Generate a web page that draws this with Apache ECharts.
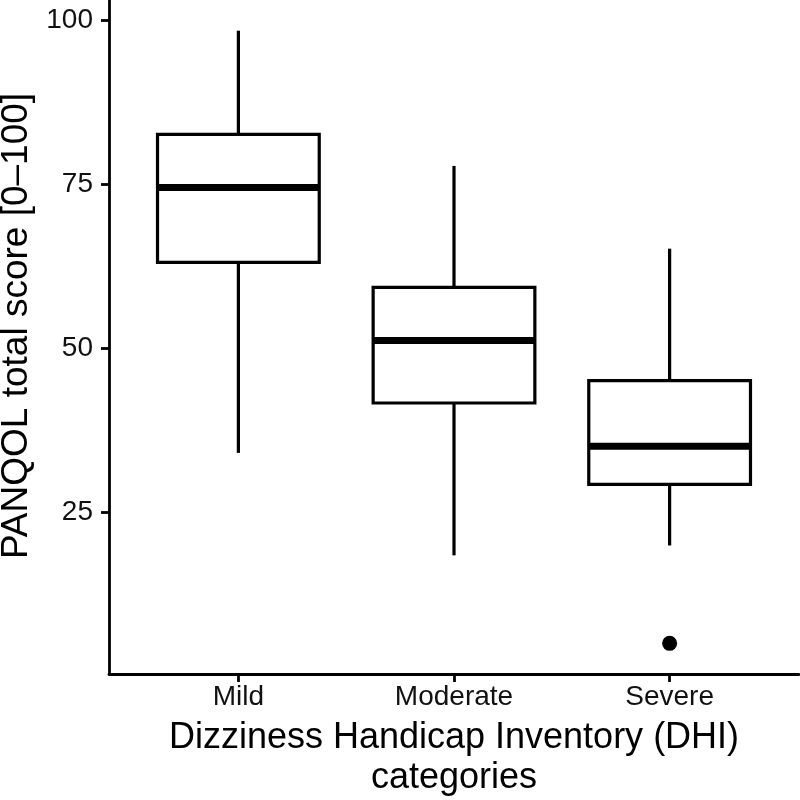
<!DOCTYPE html>
<html>
<head>
<meta charset="utf-8">
<script src="https://cdn.jsdelivr.net/npm/echarts@6/dist/echarts.min.js"></script>
<style>html,body{margin:0;padding:0;background:#fff}#c{width:800px;height:800px}</style>
</head>
<body>
<div id="c"></div>
<script>
const categories = ['Mild', 'Moderate', 'Severe'];
const whiskerLow = [34.1, 18.5, 20.0];
const q1 = [63.1, 41.7, 29.3];
const median = [74.5, 51.2, 35.1];
const q3 = [82.6, 59.3, 45.1];
const whiskerHigh = [98.4, 77.8, 65.2];
const outlierCategory = ['Severe'];
const outlierValue = [5.1];
const yTicks = [25, 50, 75, 100];

const FONT = 'Liberation Sans, Arial, Helvetica, sans-serif';
const boxData = categories.map((c, i) => [i + 1, whiskerLow[i], q1[i], median[i], q3[i], whiskerHigh[i]]);
const outData = outlierCategory.map((c, i) => [categories.indexOf(c) + 1, outlierValue[i]]);

const chart = echarts.init(document.getElementById('c'), null, {renderer: 'canvas'});
chart.setOption({
  animation: false,
  backgroundColor: '#fff',
  grid: {left: 109, right: 1, top: 0, bottom: 126, containLabel: false, outerBoundsMode: 'none'},
  xAxis: {
    type: 'value', min: 0.4, max: 3.6,
    splitLine: {show: false},
    axisLine: {onZero: false, lineStyle: {color: '#000', width: 2.8}},
    axisTick: {customValues: [1, 2, 3], length: 8, lineStyle: {color: '#000', width: 2.8}},
    axisLabel: {customValues: [1, 2, 3], formatter: v => categories[Math.round(v) - 1] || '',
      color: '#111', fontSize: 28, fontFamily: FONT, margin: 9},
    name: 'Dizziness Handicap Inventory (DHI)\ncategories',
    nameLocation: 'middle', nameGap: 44,
    nameTextStyle: {color: '#000', fontSize: 36, fontFamily: FONT, lineHeight: 40, verticalAlign: 'top'}
  },
  yAxis: {
    type: 'value', min: 0.43, max: 103.07,
    splitLine: {show: false},
    axisLine: {show: true, lineStyle: {color: '#000', width: 2.8}},
    axisTick: {show: true, customValues: yTicks, length: 8, lineStyle: {color: '#000', width: 2.8}},
    axisLabel: {customValues: yTicks, color: '#111', fontSize: 28, fontFamily: FONT, margin: 16},
    name: 'PANQOL total score [0–100]',
    nameLocation: 'middle', nameGap: 72, nameRotate: 90,
    nameTextStyle: {color: '#000', fontSize: 37, fontFamily: FONT, padding: [0, 0, 0, 22]}
  },
  series: [
    {
      type: 'custom',
      data: boxData,
      renderItem: function (params, api) {
        const x = api.value(0);
        const half = api.size([0.75, 0])[0] / 2;
        const pMin = api.coord([x, api.value(1)]);
        const pQ1 = api.coord([x, api.value(2)]);
        const pMed = api.coord([x, api.value(3)]);
        const pQ3 = api.coord([x, api.value(4)]);
        const pMax = api.coord([x, api.value(5)]);
        const stroke = {stroke: '#000', lineWidth: 3.2, fill: null};
        return {
          type: 'group',
          children: [
            {type: 'line', shape: {x1: pMax[0], y1: pMax[1], x2: pQ3[0], y2: pQ3[1]}, style: stroke},
            {type: 'line', shape: {x1: pQ1[0], y1: pQ1[1], x2: pMin[0], y2: pMin[1]}, style: stroke},
            {type: 'rect', shape: {x: pQ3[0] - half, y: pQ3[1], width: half * 2, height: pQ1[1] - pQ3[1]},
              style: {stroke: '#000', lineWidth: 3.2, fill: '#fff'}},
            {type: 'line', shape: {x1: pMed[0] - half, y1: pMed[1], x2: pMed[0] + half, y2: pMed[1]},
              style: {stroke: '#000', lineWidth: 7}}
          ]
        };
      }
    },
    {
      type: 'scatter',
      data: outData,
      symbol: 'circle',
      symbolSize: 15,
      itemStyle: {color: '#000', opacity: 1}
    }
  ]
});
</script>
</body>
</html>
